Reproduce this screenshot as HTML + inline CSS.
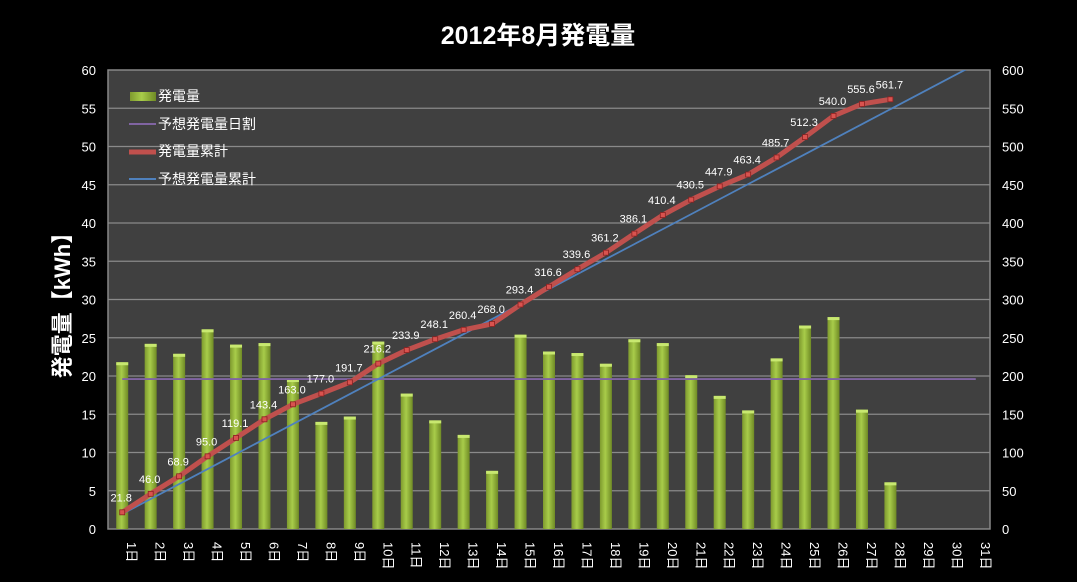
<!DOCTYPE html>
<html><head><meta charset="utf-8">
<style>
html,body{margin:0;padding:0;background:#000;}
svg{display:block;font-family:"Liberation Sans","Noto Sans CJK JP",sans-serif;}
</style></head>
<body>
<svg id="chart" width="1077" height="582" viewBox="0 0 1077 582">
<defs>
<linearGradient id="barg" x1="0" x2="1" y1="0" y2="0">
<stop offset="0" stop-color="#7e9a2e"/><stop offset="0.45" stop-color="#a8cc4a"/><stop offset="1" stop-color="#6f8a25"/>
</linearGradient>
<clipPath id="plotclip"><rect x="108" y="70" width="882" height="460"/></clipPath>
</defs>
<rect x="0" y="0" width="1077" height="582" fill="#000"/>
<text x="538" y="44" text-anchor="middle" fill="#fff" font-size="25" font-weight="bold">2012年8月発電量</text>
<rect x="108" y="70" width="882" height="459" fill="#404040" stroke="#888" stroke-width="1.5"/>
<g id="grid"></g>
<g id="bars"></g>
<g id="lines" clip-path="url(#plotclip)"></g>
<g id="labels"></g>
<g id="axes"></g>
<text transform="translate(70,300) rotate(-90)" text-anchor="middle" fill="#fff" font-size="22" font-weight="bold">発電量【kWh】</text>
<g>
<rect x="130" y="92" width="26" height="9" fill="url(#barg)"/>
<text x="158" y="101" fill="#fff" font-size="14">発電量</text>
<line x1="129" y1="124" x2="156" y2="124" stroke="#8064a2" stroke-width="2"/>
<text x="158" y="129" fill="#fff" font-size="14">予想発電量日割</text>
<line x1="129" y1="152" x2="156" y2="152" stroke="#c0504d" stroke-width="5"/>
<text x="158" y="156" fill="#fff" font-size="14">発電量累計</text>
<line x1="129" y1="179" x2="156" y2="179" stroke="#4f81bd" stroke-width="2"/>
<text x="158" y="184" fill="#fff" font-size="14">予想発電量累計</text>
</g>
</svg>
<script>
const categories = Array.from({length:31},(_,i)=>(i+1)+"日");
const dailyValues = [21.8,24.2,22.9,26.1,24.1,24.3,19.6,14.0,14.7,24.5,17.7,14.2,12.3,7.6,25.4,23.2,23.0,21.6,24.8,24.3,20.1,17.4,15.5,22.3,26.6,27.7,15.6,6.1];
const cumulativeValues = [21.8,46.0,68.9,95.0,119.1,143.4,163.0,177.0,191.7,216.2,233.9,248.1,260.4,268.0,293.4,316.6,339.6,361.2,386.1,410.4,430.5,447.9,463.4,485.7,512.3,540.0,555.6,561.7];
const forecastDaily = 19.6;
const forecastCumulative = [19.6,39.2,58.8,78.4,98,117.6,137.2,156.8,176.4,196,215.6,235.2,254.8,274.4,294,313.6,333.2,352.8,372.4,392,411.6,431.2,450.8,470.4,490,509.6,529.2,548.8,568.4,588,607.6];
const leftTicks = [0,5,10,15,20,25,30,35,40,45,50,55,60];
const rightTicks = [0,50,100,150,200,250,300,350,400,450,500,550,600];

const NS="http://www.w3.org/2000/svg";
const X0=108,X1=990,Y0=529,Y1=70;
const band=(X1-X0)/categories.length;
const xc=i=>X0+band*(i+0.5);
const yL=v=>Y0-(v/60)*(Y0-Y1);
const yR=v=>Y0-(v/600)*(Y0-Y1);
function mk(tag,attrs,parent){const e=document.createElementNS(NS,tag);for(const k in attrs)e.setAttribute(k,attrs[k]);parent.appendChild(e);return e;}
const grid=document.getElementById('grid'),bars=document.getElementById('bars'),lines=document.getElementById('lines'),labels=document.getElementById('labels'),axes=document.getElementById('axes');

leftTicks.forEach((t,i)=>{
  const y=yL(t);
  if(t>0&&t<60){const g=mk('line',{x1:X0,x2:X1,y1:y,y2:y,stroke:'#8a8a8a','stroke-width':1.2},grid);
  
  }
  const tx=mk('text',{x:96,y:y+5,'text-anchor':'end',fill:'#fff','font-size':13},axes);tx.textContent=t;
  
  
});
rightTicks.forEach(t=>{
  const tx=mk('text',{x:1002,y:yR(t)+5,fill:'#fff','font-size':13},axes);tx.textContent=t;
  
  
});
categories.forEach((c,i)=>{
  const tx=mk('text',{transform:`translate(${xc(i)+5},${542}) rotate(90)`,fill:'#fff','font-size':13},axes);tx.textContent=c;
  
  
});
dailyValues.forEach((v,i)=>{
  const w=12,y=yL(v);
  const r=mk('rect',{x:xc(i)-w/2,y:y,width:w,height:Y0-y,fill:'url(#barg)'},bars);
  
  
  const cap=mk('rect',{x:xc(i)-w/2,y:y,width:w,height:3,fill:'#c8e870'},bars);
  
  
});
const fd=mk('line',{x1:xc(0),x2:xc(30),y1:yL(forecastDaily),y2:yL(forecastDaily),stroke:'#8064a2','stroke-width':1.8},lines);


const fc=mk('polyline',{points:forecastCumulative.map((v,i)=>xc(i)+','+yR(v)).join(' '),fill:'none',stroke:'#4f81bd','stroke-width':1.8},lines);


const cl=mk('polyline',{points:cumulativeValues.map((v,i)=>xc(i)+','+yR(v)).join(' '),fill:'none',stroke:'#c0504d','stroke-width':5,'stroke-linejoin':'round'},lines);


cumulativeValues.forEach((v,i)=>{
  const m=mk('rect',{x:xc(i)-2.5,y:yR(v)-2.5,width:5,height:5,fill:'#d9534f',stroke:'#8b2020','stroke-width':0.8},lines);
  
  
  const t=mk('text',{x:xc(i)-1,y:yR(v)-11,'text-anchor':'middle',fill:'#fff','font-size':11},labels);
  t.textContent=v.toFixed(1);
  
  
});
</script>
</body></html>
